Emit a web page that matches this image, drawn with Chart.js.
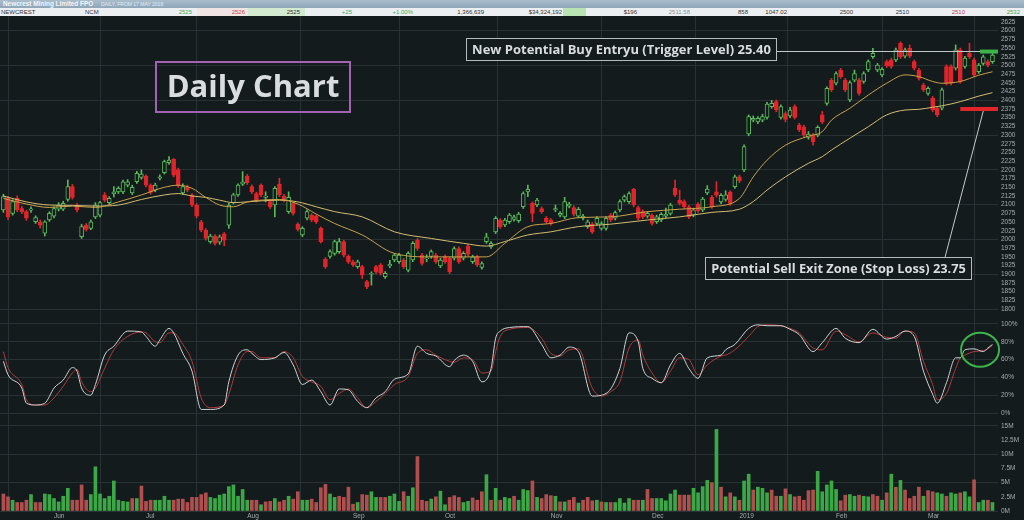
<!DOCTYPE html>
<html>
<head>
<meta charset="utf-8">
<title>Newcrest Mining - Daily Chart</title>
<script src="https://cdn.jsdelivr.net/npm/chart.js@4.4.0/dist/chart.umd.min.js"></script>
<style>
  html, body { margin: 0; padding: 0; background: #141b1d; }
  body { width: 1024px; height: 520px; overflow: hidden; font-family: "Liberation Sans", Arial, sans-serif; }
  #title { height: 8px; background: linear-gradient(#aabdcd, #8ea5b9); color: #f4f7fa; position: relative; white-space: nowrap; }
  #title b { position: absolute; left: 3px; top: 0; font-size: 6.4px; line-height: 8px; }
  #title i { position: absolute; left: 101px; top: 1px; font-size: 5px; line-height: 7px; font-style: normal; color: #e6edf3; }
  #quote { height: 8px; background: #eceff1; position: relative; font-size: 6px; line-height: 8px; color: #333; white-space: nowrap; }
  #quote span { position: absolute; top: 0; }
  #quote .cell { position: absolute; top: 0; height: 8px; }
  #wrap { position: relative; width: 1024px; height: 504px; }
</style>
</head>
<body>
<div id="title"><b>Newcrest Mining Limited FPO</b><i>DAILY, FROM 17 MAY 2018</i></div>
<div id="quote">
  <div class="cell" style="left:197px;width:51px;background:#f1e4e4"></div>
  <div class="cell" style="left:248px;width:57px;background:#d3ead0"></div>
  <div class="cell" style="left:563px;width:23px;background:#b9e3b3"></div>
  <span style="left:1px">NEWCREST</span>
  <span style="left:85px">NCM</span>
  <span style="right:832px;color:#4da64d">2525</span>
  <span style="right:779px;color:#c04848">2526</span>
  <span style="right:724px">2525</span>
  <span style="right:672px;color:#4da64d">+25</span>
  <span style="right:611px;color:#4da64d">+1.00%</span>
  <span style="right:540px">1,366,639</span>
  <span style="right:462px">$34,324,192</span>
  <span style="right:387px">$196</span>
  <span style="right:334px;color:#8a8f93">2511.58</span>
  <span style="right:276px">858</span>
  <span style="right:237px">1047.02</span>
  <span style="right:171px">2500</span>
  <span style="right:115px">2510</span>
  <span style="right:59px;color:#c04848">2510</span>
  <span style="right:4px;color:#4da64d">2532</span>
</div>
<div id="wrap"><canvas id="chart" width="1024" height="504"></canvas></div>
<script>
// daily candles, 17 May 2018 .. 21 Mar 2019 (index = trading day)
const openP = [
  2085, 2118, 2075, 2118, 2089, 2080, 2084, 2051, 2051, 2018,
  2056, 2067, 2087, 2087, 2115, 2152, 2099, 2008, 2041, 2032,
  2065, 2070, 2128, 2106, 2131, 2137, 2137, 2156, 2134, 2166,
  2178, 2182, 2156, 2142, 2176, 2192, 2221, 2230, 2201, 2134,
  2150, 2128, 2099, 2051, 2027, 1994, 2010, 1992, 2016, 2041,
  2106, 2128, 2159, 2182, 2152, 2132, 2156, 2121, 2109, 2099,
  2159, 2125, 2080, 2104, 2044, 2013, 2061, 2070, 2067, 2032,
  1943, 1951, 1960, 1965, 1994, 1952, 1936, 1922, 1922, 1879,
  1900, 1922, 1927, 1893, 1924, 1941, 1936, 1941, 1912, 1941,
  1998, 1955, 1944, 1951, 1955, 1924, 1951, 1946, 1946, 1974,
  1946, 1981, 1936, 1950, 1920, 1994, 1979, 2022, 2056, 2042,
  2051, 2058, 2054, 2094, 2137, 2104, 2099, 2089, 2061, 2056,
  2085, 2070, 2065, 2096, 2092, 2067, 2061, 2037, 2044, 2046,
  2032, 2032, 2070, 2061, 2085, 2113, 2109, 2144, 2092, 2080,
  2067, 2070, 2051, 2056, 2067, 2075, 2147, 2113, 2109, 2094,
  2070, 2102, 2085, 2134, 2122, 2137, 2108, 2115, 2136, 2152,
  2180, 2200, 2303, 2343, 2338, 2343, 2351, 2382, 2396, 2351,
  2362, 2355, 2382, 2329, 2324, 2293, 2300, 2300, 2358, 2391,
  2458, 2449, 2487, 2458, 2401, 2458, 2458, 2454, 2487, 2525,
  2487, 2473, 2511, 2516, 2516, 2564, 2527, 2549, 2511, 2487,
  2444, 2420, 2406, 2377, 2377, 2497, 2497, 2492, 2545, 2497,
  2535, 2516, 2482, 2506, 2511, 2511
];
const closeP = [
  2123, 2065, 2109, 2085, 2080, 2061, 2088, 2063, 2041, 2051,
  2075, 2089, 2099, 2104, 2152, 2121, 2085, 2037, 2029, 2051,
  2099, 2106, 2113, 2118, 2137, 2147, 2166, 2166, 2150, 2190,
  2188, 2156, 2135, 2156, 2180, 2224, 2228, 2185, 2156, 2152,
  2142, 2099, 2067, 2027, 2003, 2010, 1989, 2008, 1998, 2099,
  2128, 2156, 2166, 2163, 2137, 2113, 2128, 2125, 2094, 2147,
  2128, 2113, 2121, 2075, 2029, 2032, 2080, 2056, 2051, 1994,
  1922, 1965, 1994, 1994, 1955, 1936, 1927, 1936, 1898, 1864,
  1903, 1907, 1903, 1903, 1929, 1955, 1955, 1922, 1960, 1989,
  1974, 1931, 1946, 1965, 1936, 1941, 1936, 1907, 1974, 1936,
  1960, 1958, 1950, 1927, 1931, 2008, 1989, 2061, 2037, 2056,
  2070, 2065, 2073, 2132, 2144, 2075, 2113, 2080, 2051, 2046,
  2089, 2075, 2109, 2102, 2073, 2087, 2067, 2051, 2022, 2061,
  2046, 2061, 2056, 2077, 2109, 2123, 2132, 2099, 2061, 2065,
  2075, 2046, 2065, 2072, 2073, 2099, 2128, 2104, 2094, 2065,
  2085, 2083, 2116, 2145, 2094, 2127, 2127, 2128, 2104, 2180,
  2168, 2267, 2353, 2348, 2348, 2353, 2389, 2391, 2372, 2382,
  2345, 2372, 2351, 2315, 2300, 2303, 2281, 2322, 2338, 2434,
  2430, 2477, 2468, 2430, 2451, 2477, 2420, 2477, 2511, 2535,
  2501, 2489, 2499, 2497, 2545, 2525, 2545, 2527, 2492, 2463,
  2430, 2434, 2372, 2358, 2430, 2449, 2449, 2545, 2454, 2521,
  2525, 2473, 2501, 2525, 2501, 2530
];
const highP = [
  2130, 2124, 2114, 2125, 2095, 2084, 2094, 2068, 2056, 2054,
  2080, 2094, 2106, 2110, 2171, 2158, 2104, 2044, 2046, 2056,
  2106, 2110, 2135, 2123, 2152, 2152, 2171, 2172, 2156, 2196,
  2200, 2186, 2160, 2162, 2186, 2228, 2238, 2233, 2205, 2160,
  2156, 2132, 2103, 2055, 2031, 2015, 2014, 2013, 2020, 2104,
  2133, 2160, 2195, 2187, 2157, 2136, 2160, 2137, 2113, 2152,
  2176, 2130, 2137, 2108, 2048, 2037, 2085, 2074, 2071, 2036,
  1948, 1970, 1998, 2003, 1998, 1956, 1941, 1941, 1926, 1883,
  1907, 1926, 1931, 1908, 1940, 1960, 1960, 1946, 1965, 1994,
  2003, 1960, 1956, 1970, 1960, 1946, 1956, 1950, 1979, 1979,
  1965, 1986, 1955, 1955, 1936, 2018, 1994, 2066, 2060, 2061,
  2075, 2070, 2078, 2137, 2156, 2108, 2118, 2094, 2066, 2060,
  2099, 2080, 2121, 2107, 2097, 2092, 2072, 2056, 2049, 2066,
  2051, 2066, 2075, 2082, 2114, 2128, 2137, 2147, 2096, 2085,
  2080, 2074, 2070, 2077, 2090, 2104, 2171, 2142, 2114, 2098,
  2090, 2106, 2121, 2155, 2126, 2166, 2132, 2140, 2140, 2185,
  2185, 2272, 2358, 2355, 2353, 2360, 2394, 2400, 2401, 2387,
  2367, 2380, 2387, 2334, 2329, 2310, 2305, 2327, 2368, 2439,
  2463, 2482, 2492, 2463, 2456, 2487, 2463, 2482, 2516, 2549,
  2506, 2494, 2516, 2521, 2550, 2568, 2550, 2559, 2516, 2492,
  2449, 2439, 2411, 2382, 2435, 2502, 2502, 2559, 2550, 2526,
  2564, 2521, 2506, 2530, 2516, 2535
];
const lowP = [
  2078, 2058, 2070, 2080, 2074, 2055, 2078, 2046, 2033, 2010,
  2052, 2062, 2082, 2083, 2110, 2116, 2079, 2003, 2024, 2028,
  2060, 2065, 2108, 2101, 2122, 2132, 2132, 2151, 2129, 2161,
  2173, 2151, 2130, 2137, 2171, 2188, 2216, 2180, 2150, 2129,
  2137, 2094, 2062, 2022, 1998, 1989, 1984, 1986, 1982, 2032,
  2102, 2124, 2155, 2158, 2132, 2108, 2123, 2108, 2089, 2065,
  2123, 2108, 2075, 2070, 2024, 2008, 2056, 2051, 2046, 1990,
  1917, 1946, 1955, 1960, 1950, 1931, 1922, 1917, 1888, 1859,
  1869, 1902, 1898, 1888, 1919, 1936, 1931, 1917, 1907, 1936,
  1969, 1926, 1936, 1946, 1931, 1919, 1931, 1902, 1941, 1931,
  1941, 1953, 1931, 1922, 1915, 1989, 1974, 2017, 2032, 2037,
  2046, 2053, 2049, 2089, 2123, 2051, 2094, 2075, 2046, 2041,
  2080, 2065, 2060, 2091, 2068, 2062, 2056, 2032, 2017, 2041,
  2027, 2027, 2051, 2056, 2080, 2108, 2104, 2094, 2056, 2060,
  2062, 2041, 2046, 2051, 2062, 2070, 2123, 2099, 2089, 2060,
  2065, 2078, 2080, 2129, 2089, 2122, 2103, 2110, 2098, 2147,
  2163, 2195, 2298, 2338, 2333, 2338, 2346, 2377, 2367, 2346,
  2338, 2350, 2346, 2310, 2295, 2288, 2271, 2295, 2333, 2386,
  2425, 2444, 2463, 2425, 2396, 2453, 2415, 2449, 2482, 2520,
  2482, 2468, 2494, 2492, 2511, 2520, 2522, 2522, 2487, 2458,
  2425, 2415, 2367, 2353, 2372, 2444, 2444, 2487, 2449, 2492,
  2520, 2468, 2477, 2501, 2496, 2506
];
// volume in millions, and whether the bar is shown green
const volume = [
  3.0, 2.5, 1.9, 1.5, 1.5, 1.9, 2.9, 1.5, 1.5, 3.0,
  2.9, 2.2, 1.6, 2.6, 4.0, 1.9, 1.9, 4.6, 1.9, 2.9,
  7.8, 3.0, 2.2, 2.6, 5.3, 1.9, 1.7, 1.6, 2.2, 2.2,
  4.4, 1.7, 1.9, 1.9, 1.9, 2.6, 1.9, 1.9, 2.1, 2.1,
  1.5, 2.4, 2.4, 2.9, 3.2, 2.4, 2.2, 2.8, 3.0, 4.3,
  4.6, 2.6, 3.8, 1.9, 1.9, 1.9, 1.1, 1.6, 1.7, 2.2,
  1.6, 1.9, 2.6, 2.1, 3.4, 1.9, 1.9, 2.1, 1.5, 4.1,
  4.7, 3.0, 2.4, 2.6, 2.4, 4.2, 1.2, 1.5, 2.9, 2.8,
  3.4, 2.4, 2.4, 2.4, 2.6, 3.0, 1.7, 3.4, 2.6, 4.1,
  9.6, 1.9, 1.7, 2.1, 2.5, 3.5, 1.1, 2.4, 2.7, 2.4,
  1.5, 1.7, 2.3, 1.9, 3.4, 6.4, 1.9, 4.0, 1.9, 2.4,
  2.2, 2.6, 1.9, 3.8, 3.6, 5.3, 2.4, 2.2, 2.9, 2.7,
  2.6, 1.6, 1.6, 1.9, 2.4, 1.4, 1.9, 2.4, 1.8, 1.9,
  1.6, 1.5, 1.5, 1.5, 2.2, 1.4, 2.2, 1.9, 1.9, 1.9,
  3.8, 2.2, 2.2, 2.2, 1.8, 3.0, 3.7, 2.8, 2.8, 2.8,
  4.0, 3.2, 4.3, 5.4, 5.0, 14.4, 4.2, 2.5, 3.2, 2.5,
  1.9, 5.3, 6.5, 3.7, 4.2, 4.0, 3.2, 3.7, 2.6, 2.6,
  3.9, 2.9, 2.5, 2.6, 1.9, 3.6, 3.7, 7.0, 3.4, 4.6,
  5.3, 3.8, 1.8, 2.8, 2.9, 2.6, 2.8, 2.6, 2.5, 2.9,
  2.6, 1.9, 3.2, 6.5, 4.2, 5.4, 3.7, 2.2, 2.6, 4.2,
  2.6, 3.6, 3.4, 3.2, 3.0, 2.6, 3.2, 3.0, 3.2, 3.4,
  2.5, 5.5, 1.5, 1.9, 1.9, 1.5
];
const volUp = [
  0,0,1,0,0,0,1,0,0,1, 1,1,1,1,1,0,0,0,0,1, 1,1,1,1,1,1,1,1,0,1,
  0,0,0,1,1,1,1,0,0,0, 0,0,0,0,0,1,1,1,1,1, 1,1,1,1,0,0,1,0,0,1,
  0,0,1,0,0,1,1,0,0,0, 0,1,1,0,0,0,0,1,0,0, 1,1,0,0,1,1,1,0,1,1,
  0,0,0,1,0,1,1,0,0,0, 1,1,0,0,0,1,0,1,0,1, 1,0,1,1,1,0,1,0,0,0,
  1,0,1,0,0,1,0,0,0,1, 0,1,0,1,1,1,1,0,0,1, 0,0,1,1,1,1,1,0,0,0,
  1,1,1,1,0,1,0,1,0,1, 0,1,1,0,1,1,1,0,0,1, 0,1,0,0,0,0,0,1,1,1,
  1,1,0,0,1,1,0,1,1,0, 0,1,0,1,0,1,0,0,0,0, 1,0,0,1,1,0,1,1,0,1,
  1,0,1,1,0,1
];
// moving averages read at sampled days
const maIdx = [0, 5, 10, 15, 20, 25, 30, 35, 38, 41, 44, 47, 50, 53, 56, 60, 64, 68, 72, 78,
  85, 93, 100, 105, 109, 114, 119, 125, 132, 140, 147, 154, 160, 163, 166, 170, 175, 178, 180, 184,
  188, 192, 196, 199, 202, 204, 208, 212, 215];
const maFast = [2118, 2102, 2092, 2096, 2092, 2108, 2128, 2150, 2156, 2147, 2121, 2099, 2094, 2108, 2113, 2115, 2102, 2073, 2046, 2013,
  1960, 1950, 1950, 1950, 1989, 2037, 2046, 2063, 2065, 2080, 2087, 2094, 2118, 2180, 2228, 2271, 2297, 2310, 2343, 2377,
  2415, 2449, 2473, 2468, 2454, 2449, 2454, 2472, 2482];
const maSlow = [2125, 2108, 2099, 2098, 2096, 2099, 2115, 2128, 2132, 2125, 2121, 2113, 2106, 2108, 2111, 2113, 2108, 2094, 2080, 2065,
  2022, 2003, 1989, 1981, 1994, 2013, 2022, 2037, 2044, 2056, 2065, 2078, 2087, 2109, 2142, 2180, 2219, 2238, 2257, 2291,
  2324, 2358, 2372, 2374, 2380, 2384, 2396, 2412, 2422];
// stochastic %K / %D read at sampled days
const stochIdx = [0, 1, 4, 5, 7, 9, 11, 13, 15, 16, 17, 19, 20, 22, 24, 27, 30, 31, 33, 34,
  36, 37, 39, 41, 43, 45, 48, 49, 51, 53, 54, 56, 59, 61, 63, 65, 67, 69, 71, 73,
  75, 77, 79, 81, 83, 85, 88, 90, 92, 94, 97, 98, 100, 102, 104, 106, 107, 108, 110, 114,
  117, 119, 121, 123, 125, 128, 130, 132, 134, 136, 138, 139, 141, 143, 145, 147, 149, 151, 153, 156,
  157, 159, 162, 164, 166, 169, 171, 173, 176, 178, 181, 183, 186, 189, 192, 194, 196, 198, 200, 202,
  203, 205, 207, 208, 209, 211, 213, 214, 215];
const stochK = [58, 43, 28, 11, 9, 11, 28, 37, 51, 47, 28, 20, 32, 65, 75, 92, 91, 86, 75, 82,
  95, 90, 67, 47, 4, 4, 9, 35, 65, 71, 67, 60, 62, 68, 54, 32, 37, 24, 9, 27,
  26, 13, 6, 17, 24, 38, 44, 75, 67, 64, 52, 59, 65, 58, 35, 50, 84, 92, 96, 97,
  77, 62, 65, 74, 69, 19, 20, 27, 50, 90, 80, 50, 39, 34, 54, 67, 50, 39, 62, 65,
  71, 77, 95, 99, 98, 98, 94, 88, 69, 79, 95, 84, 79, 94, 83, 86, 92, 86, 47, 21,
  11, 34, 62, 62, 71, 72, 69, 73, 77];
const stochD = [69, 51, 32, 15, 9, 9, 17, 30, 45, 49, 35, 24, 28, 50, 71, 86, 91, 90, 80, 79,
  90, 90, 77, 58, 17, 6, 9, 21, 54, 69, 69, 62, 62, 69, 62, 41, 35, 30, 15, 22,
  27, 17, 6, 13, 22, 32, 41, 67, 71, 65, 58, 57, 62, 60, 45, 47, 69, 86, 94, 96,
  84, 67, 64, 71, 72, 28, 19, 24, 35, 73, 82, 65, 45, 34, 47, 62, 60, 43, 54, 64,
  65, 71, 86, 97, 99, 98, 95, 90, 73, 71, 92, 88, 80, 90, 85, 84, 92, 90, 58, 32,
  15, 22, 50, 62, 65, 69, 70, 72, 76];
const monthIdx = [11, 31, 53, 76, 96, 119, 141, 160, 181, 201];
const monthLabels = ['Jun', 'Jul', 'Aug', 'Sep', 'Oct', 'Nov', 'Dec', '2019', 'Feb', 'Mar'];
const priceTicks = [1800, 1825, 1850, 1875, 1900, 1925, 1950, 1975, 2000, 2025, 2050, 2075, 2100, 2125, 2150, 2175, 2200,
  2225, 2250, 2275, 2300, 2325, 2350, 2375, 2400, 2425, 2450, 2475, 2500, 2525, 2550, 2575, 2600, 2625];
const stochTicks = [0, 20, 40, 60, 80, 100];
const volTicks = [0, 2.5, 5, 7.5, 10, 12.5, 15];
const triggerLevel = 2540;
const stopLevel = 2375;

const BG = '#141b1d';
const GRID = '#283234';
const UP = '#58b85a';
const DOWN = '#e1252a';
const VOL_UP = '#3ba846';
const VOL_DOWN = '#b04f4d';
const TICK = { color: '#a3abae', font: { family: 'Liberation Sans', size: 6.5 } };

function boxLabel(ctx, bx, by, bw, bh, text, size, stroke, lw, fill) {
  if (fill) {
    ctx.fillStyle = BG;
    ctx.fillRect(bx, by, bw, bh);
  }
  ctx.strokeStyle = stroke;
  ctx.lineWidth = lw;
  ctx.strokeRect(bx + lw / 2, by + lw / 2, bw - lw, bh - lw);
  ctx.font = 'bold ' + size + 'px "Open Sans"';
  const w = ctx.measureText(text).width;
  const room = bw - 2 * lw - 10;
  if (w > room) {
    size = size * room / w;
    ctx.font = 'bold ' + size + 'px "Open Sans"';
  }
  ctx.fillStyle = '#d9dde0';
  ctx.textAlign = 'center';
  ctx.textBaseline = 'middle';
  ctx.fillText(text, bx + bw / 2, by + bh / 2 + 1);
}

const overlay = {
  id: 'overlay',
  afterDatasetsDraw(chart) {
    const { ctx, chartArea } = chart;
    const x = chart.scales.x, p = chart.scales.price, s = chart.scales.stoch;
    const yTrig = p.getPixelForValue(triggerLevel);
    const yStop = p.getPixelForValue(stopLevel);
    ctx.save();
    ctx.strokeStyle = '#c3c8ca';
    ctx.lineWidth = 1;
    ctx.beginPath();
    ctx.moveTo(777, Math.round(yTrig) - 0.5);
    ctx.lineTo(x.getPixelForValue(213), Math.round(yTrig) - 0.5);
    ctx.stroke();
    const gx = x.getPixelForValue(212.3);
    ctx.fillStyle = '#3cb44b';
    ctx.fillRect(gx, yTrig - 2, chartArea.right - gx, 4);
    const rx = x.getPixelForValue(208);
    ctx.fillStyle = DOWN;
    ctx.fillRect(rx, yStop - 2, chartArea.right - rx, 4);
    ctx.strokeStyle = '#c3c8ca';
    ctx.beginPath();
    ctx.moveTo(x.getPixelForValue(204.7), 241);
    ctx.lineTo(x.getPixelForValue(213), yStop + 2);
    ctx.stroke();
    boxLabel(ctx, 466, 22, 311, 23, 'New Potential Buy Entryu (Trigger Level) 25.40', 15, '#b5bbbe', 1, true);
    boxLabel(ctx, 705, 241, 267, 23, 'Potential Sell Exit Zone (Stop Loss) 23.75', 15, '#b5bbbe', 1, true);
    boxLabel(ctx, 155, 45, 196, 52, 'Daily Chart', 31, '#a462b4', 2, false);
    ctx.strokeStyle = '#3cb44b';
    ctx.lineWidth = 2;
    ctx.beginPath();
    ctx.ellipse(x.getPixelForValue(212.3), s.getPixelForValue(71), 19, 17, 0, 0, Math.PI * 2);
    ctx.stroke();
    ctx.restore();
  }
};

const isUp = openP.map((o, i) => closeP[i] >= o);

const paneY = (stackWeight, min, max, ticks, fmt, gridAt) => ({
  type: 'linear', position: 'right', stack: 'pane', stackWeight, min, max,
  afterBuildTicks: sc => { sc.ticks = ticks.map(v => ({ value: v })); },
  afterFit: sc => { sc.width = 26; sc.paddingTop = 0; sc.paddingBottom = 0; },
  grid: { drawTicks: false, color: c => (c.tick && gridAt(c.tick.value)) ? GRID : 'rgba(0,0,0,0)' },
  border: { display: false },
  ticks: { ...TICK, padding: 3, autoSkip: false, callback: fmt }
});

new Chart(document.getElementById('chart'), {
  type: 'bar',
  data: {
    datasets: [
      {
        label: 'MA fast', type: 'line', yAxisID: 'price', order: -2,
        data: maIdx.map((d, k) => ({ x: d, y: maFast[k] })),
        borderColor: '#c9a24c', borderWidth: 1, pointRadius: 0, cubicInterpolationMode: 'monotone'
      },
      {
        label: 'MA slow', type: 'line', yAxisID: 'price', order: -1,
        data: maIdx.map((d, k) => ({ x: d, y: maSlow[k] })),
        borderColor: '#d3bd72', borderWidth: 1, pointRadius: 0, cubicInterpolationMode: 'monotone'
      },
      {
        label: 'Body', yAxisID: 'price', order: 0, grouped: false,
        data: openP.map((o, i) => ({ x: i, y: [Math.min(o, closeP[i]), Math.max(o, closeP[i])] })),
        barThickness: 4, borderWidth: 1, borderSkipped: false,
        backgroundColor: isUp.map(u => u ? BG : DOWN),
        borderColor: isUp.map(u => u ? UP : DOWN)
      },
      {
        label: 'Wick', yAxisID: 'price', order: 1, grouped: false,
        data: highP.map((h, i) => ({ x: i, y: [lowP[i], h] })),
        barThickness: 1,
        backgroundColor: isUp.map(u => u ? UP : DOWN)
      },
      {
        label: '%K', type: 'line', yAxisID: 'stoch', order: -4,
        data: stochIdx.map((d, k) => ({ x: d, y: stochK[k] })),
        borderColor: '#cfd3d5', borderWidth: 1, pointRadius: 0, cubicInterpolationMode: 'monotone'
      },
      {
        label: '%D', type: 'line', yAxisID: 'stoch', order: -3,
        data: stochIdx.map((d, k) => ({ x: d, y: stochD[k] })),
        borderColor: '#b03a3b', borderWidth: 1, pointRadius: 0, cubicInterpolationMode: 'monotone'
      },
      {
        label: 'Volume', yAxisID: 'vol', order: 2, grouped: false,
        data: volume.map((v, i) => ({ x: i, y: v })),
        barThickness: 3,
        backgroundColor: volUp.map(u => u ? VOL_UP : VOL_DOWN)
      }
    ]
  },
  options: {
    responsive: false,
    animation: false,
    layout: { padding: 0 },
    plugins: { legend: { display: false }, tooltip: { enabled: false } },
    scales: {
      x: {
        type: 'linear', min: -0.74, max: 216.2, offset: false,
        afterBuildTicks: sc => { sc.ticks = monthIdx.map(v => ({ value: v })); },
        afterFit: sc => { sc.height = 9; sc.paddingLeft = 0; sc.paddingRight = 0; },
        grid: { color: GRID, drawTicks: false },
        border: { display: false },
        ticks: {
          ...TICK, align: 'start', padding: 1, maxRotation: 0, autoSkip: false,
          callback: v => monthLabels[monthIdx.indexOf(v)]
        }
      },
      price: paneY(302, 1774.4, 2642.2, priceTicks, v => v, v => v % 100 === 0),
      stoch: paneY(100, -5.6, 106.7, stochTicks, v => v + '%', () => true),
      vol: paneY(93, 0, 16.41, volTicks, v => v + 'M', v => v % 5 === 0)
    }
  },
  plugins: [overlay]
});
</script>
</body>
</html>
